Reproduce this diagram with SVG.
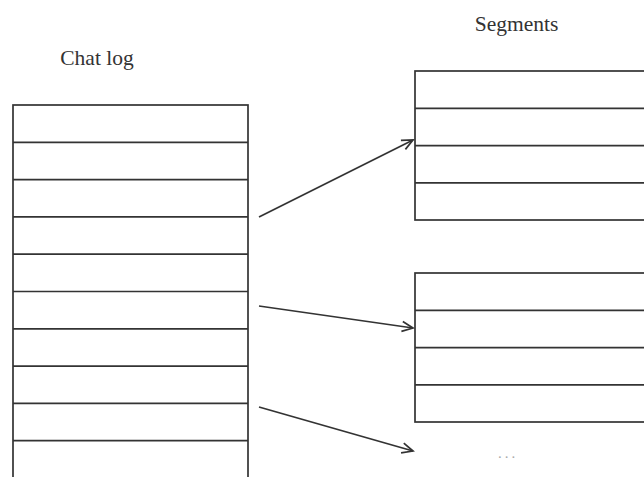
<svg xmlns="http://www.w3.org/2000/svg" width="644" height="477" viewBox="0 0 644 477">
<style>
.box{fill:#fff;stroke:#333;stroke-width:1.7}
.row{stroke:#333;stroke-width:1.7}
.lbl{font-family:"Liberation Serif","Times New Roman",serif;font-size:21.5px;fill:#333}
.conn{stroke:#333;stroke-width:1.7;fill:none}
.dots{font-family:"Liberation Serif","Times New Roman",serif;font-size:15px;fill:#aaa;letter-spacing:3px}
</style>
<defs>
<marker id="arr" markerUnits="userSpaceOnUse" markerWidth="14" markerHeight="12" refX="11" refY="5" orient="auto" overflow="visible">
<path d="M0,0 L11,5 L0,10" fill="none" stroke="#333" stroke-width="1.7"/>
</marker>
</defs>
<rect width="644" height="477" fill="#fff"/>
<g id="chatlog">
<text class="lbl" x="97" y="65" text-anchor="middle">Chat log</text>
<rect class="box" x="13" y="105" width="235" height="373"/>
<line class="row" x1="13" y1="142.3" x2="248" y2="142.3"/>
<line class="row" x1="13" y1="179.6" x2="248" y2="179.6"/>
<line class="row" x1="13" y1="216.9" x2="248" y2="216.9"/>
<line class="row" x1="13" y1="254.2" x2="248" y2="254.2"/>
<line class="row" x1="13" y1="291.5" x2="248" y2="291.5"/>
<line class="row" x1="13" y1="328.8" x2="248" y2="328.8"/>
<line class="row" x1="13" y1="366.1" x2="248" y2="366.1"/>
<line class="row" x1="13" y1="403.4" x2="248" y2="403.4"/>
<line class="row" x1="13" y1="440.7" x2="248" y2="440.7"/>
</g>
<g id="segments-label">
<text class="lbl" x="516.5" y="30.5" text-anchor="middle">Segments</text>
</g>
<g id="segment1">
<rect class="box" x="415" y="71" width="250" height="149"/>
<line class="row" x1="415" y1="108.3" x2="665" y2="108.3"/>
<line class="row" x1="415" y1="145.6" x2="665" y2="145.6"/>
<line class="row" x1="415" y1="182.9" x2="665" y2="182.9"/>
</g>
<g id="segment2">
<rect class="box" x="415" y="273" width="250" height="149"/>
<line class="row" x1="415" y1="310.3" x2="665" y2="310.3"/>
<line class="row" x1="415" y1="347.6" x2="665" y2="347.6"/>
<line class="row" x1="415" y1="384.9" x2="665" y2="384.9"/>
</g>
<g id="more">
<text class="dots" x="498" y="458">...</text>
</g>
<g id="connectors">
<line class="conn" x1="259" y1="217" x2="413" y2="140" marker-end="url(#arr)"/>
<line class="conn" x1="259" y1="306" x2="413" y2="328" marker-end="url(#arr)"/>
<line class="conn" x1="259" y1="407" x2="413" y2="451" marker-end="url(#arr)"/>
</g>
</svg>
